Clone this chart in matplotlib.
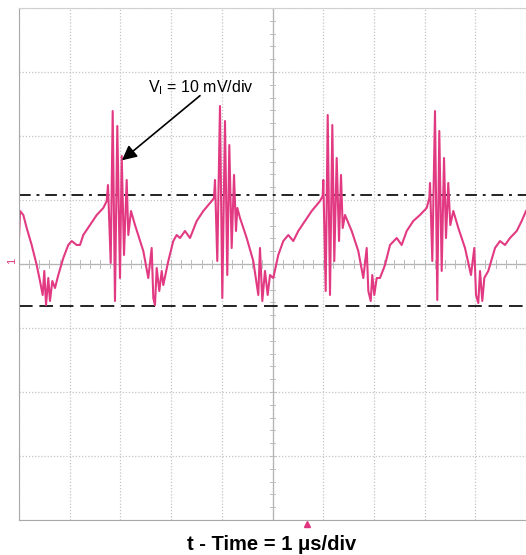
import numpy as np
import matplotlib
matplotlib.use('Agg')
import matplotlib.pyplot as plt

plt.rcParams['font.family'] = ['Liberation Sans', 'DejaVu Sans']

# 示波器波形：时间 (us)，电压 (mV, 10 mV/div)
t_us = [0.00, 0.02, 0.085, 0.152, 0.25, 0.349, 0.414, 0.467, 0.499, 0.533,
        0.578, 0.611, 0.657, 0.71, 0.775, 0.874, 0.972, 1.039, 1.138, 1.203,
        1.268, 1.40, 1.533, 1.663, 1.73,
        1.755, 1.809, 1.848, 1.893, 1.939, 1.992, 2.026, 2.071, 2.124, 2.156, 2.209,
        2.288, 2.452, 2.55, 2.617, 2.649, 2.682, 2.716, 2.767, 2.815, 2.846,
        2.945, 3.043, 3.11, 3.176, 3.274, 3.373, 3.505, 3.635, 3.801, 3.846,
        3.866, 3.911, 3.964, 4.01, 4.063, 4.108, 4.148, 4.195, 4.241, 4.28, 4.306,
        4.359, 4.491, 4.621, 4.72, 4.753, 4.799, 4.852, 4.905, 4.951, 5.016,
        5.114, 5.213, 5.312, 5.41, 5.509, 5.641, 5.773, 5.937, 5.99,
        6.002, 6.049, 6.089, 6.134, 6.18, 6.219, 6.266, 6.312, 6.351, 6.385, 6.43,
        6.562, 6.692, 6.791, 6.858, 6.89, 6.937, 6.968, 7.008, 7.055, 7.12,
        7.219, 7.318, 7.45, 7.548, 7.647, 7.777, 7.909, 8.041, 8.093,
        8.107, 8.152, 8.205, 8.25, 8.29, 8.337, 8.383, 8.422, 8.467, 8.507, 8.566,
        8.665, 8.797, 8.915, 8.98, 9.014, 9.059, 9.093, 9.138, 9.178, 9.256,
        9.389, 9.487, 9.586, 9.684, 9.817, 9.915, 10.0]
v_mv = [4.06, 8.28, 7.66, 5.63, 2.97, -0.16, -2.66, -4.84, -1.09, -6.41,
        -2.19, -5.78, -2.66, -3.75, -1.72, 0.94, 2.97, 3.59, 2.97, 2.97,
        4.53, 6.09, 7.66, 8.75, 9.84,
        12.34, 0.16, 23.9, -5.78, 21.56, -2.19, 16.88, 1.41, 13.13, 4.53, 8.28,
        6.09, 2.03, -2.19, 2.5, -5.31, -6.41, -0.63, -4.22, -1.09, -3.28,
        0.47, 3.59, 4.53, 4.06, 5.16, 4.06, 6.72, 8.28, 9.84, 10.31,
        13.13, 0.47, 24.69, -5.31, 22.34, -1.72, 18.59, 2.5, 13.91, 5.16, 8.75,
        7.19, 4.06, 0.47, -4.84, 2.5, -5.78, -1.09, -4.84, -1.72, -2.19,
        1.41, 3.59, 4.53, 3.59, 5.16, 6.72, 8.28, 9.84, 10.63,
        13.13, -4.22, 23.28, -4.84, 21.72, 0.47, 16.56, 3.59, 13.91, 5.63, 7.66,
        5.16, 2.03, -2.19, 2.5, -4.22, -5.78, -1.72, -4.84, -2.19, -2.19,
        -0.16, 2.97, 4.06, 2.97, 5.16, 6.72, 7.66, 8.75, 10.31,
        12.66, 0.47, 23.9, -5.63, 20.78, -1.09, 16.56, 4.06, 12.66, 6.09, 8.28,
        5.63, 2.5, -1.72, 2.5, -4.84, -6.09, -1.09, -5.78, -2.19, -1.09,
        2.5, 3.59, 2.97, 4.06, 5.16, 6.72, 8.28]

upper_ref = 10.8    # 点划线
lower_ref = -6.6    # 虚线
trig_t = 5.68       # 触发位置

fig = plt.figure(figsize=(5.26, 5.55), dpi=100)
ax = fig.add_axes([19/526, 35/555, 507/526, 512/555])
ax.set_xlim(0, 10)
ax.set_ylim(-40, 40)

# 网格
ax.set_xticks(np.arange(0, 11, 1))
ax.set_yticks(np.arange(-40, 41, 10))
ax.grid(True, color='#c4c4c4', linestyle=(0, (1, 1.5)), linewidth=0.9)
ax.tick_params(length=0, labelbottom=False, labelleft=False)
ax.axvline(5, color='#b4b4b4', lw=0.9)
ax.axhline(0, color='#b4b4b4', lw=0.9)
for v in np.arange(-40, 41, 2):
    ax.plot([4.95, 5.05], [v, v], color='#bcbcbc', lw=0.7)
for t in np.arange(0, 10.01, 0.2):
    ax.plot([t, t], [-0.6, 0.6], color='#bcbcbc', lw=0.7)
for s in ['left', 'bottom']:
    ax.spines[s].set_color('#a8a8a8')
ax.spines['top'].set_color('#d0d0d0')
ax.spines['right'].set_visible(False)

# 参考线
ax.axhline(upper_ref, color='#222222', lw=1.4, linestyle=(0, (6, 3, 1.5, 3)))
ax.axhline(lower_ref, color='#222222', lw=1.4, linestyle=(0, (7, 3.5)))

# 波形
ax.plot(t_us, v_mv, color='#e23a82', lw=1.5, solid_joinstyle='round')

# 标注
ax.text(2.54, 27.5, r'V$_\mathregular{I}$ = 10 mV/div', fontsize=11.5, va='center', ha='left')
ax.annotate('', xy=(2.03, 16.2), xytext=(3.57, 26.3),
            arrowprops=dict(arrowstyle='-|>', color='black', lw=1.2,
                            mutation_scale=22, shrinkA=0, shrinkB=0))

# 通道与触发标记
ax.text(-0.14, 0.5, '1', color='#e0357e', fontsize=8, rotation=90,
        ha='center', va='center', clip_on=False)
ax.plot([trig_t], [-40.6], marker='^', color='#e0357e', ms=4, clip_on=False)

fig.text(272/526, 1 - 545/555, 't - Time = 1 \u03bcs/div', fontsize=14.5,
         fontweight='bold', ha='center', va='center')

fig.savefig('out.png', dpi=100)
